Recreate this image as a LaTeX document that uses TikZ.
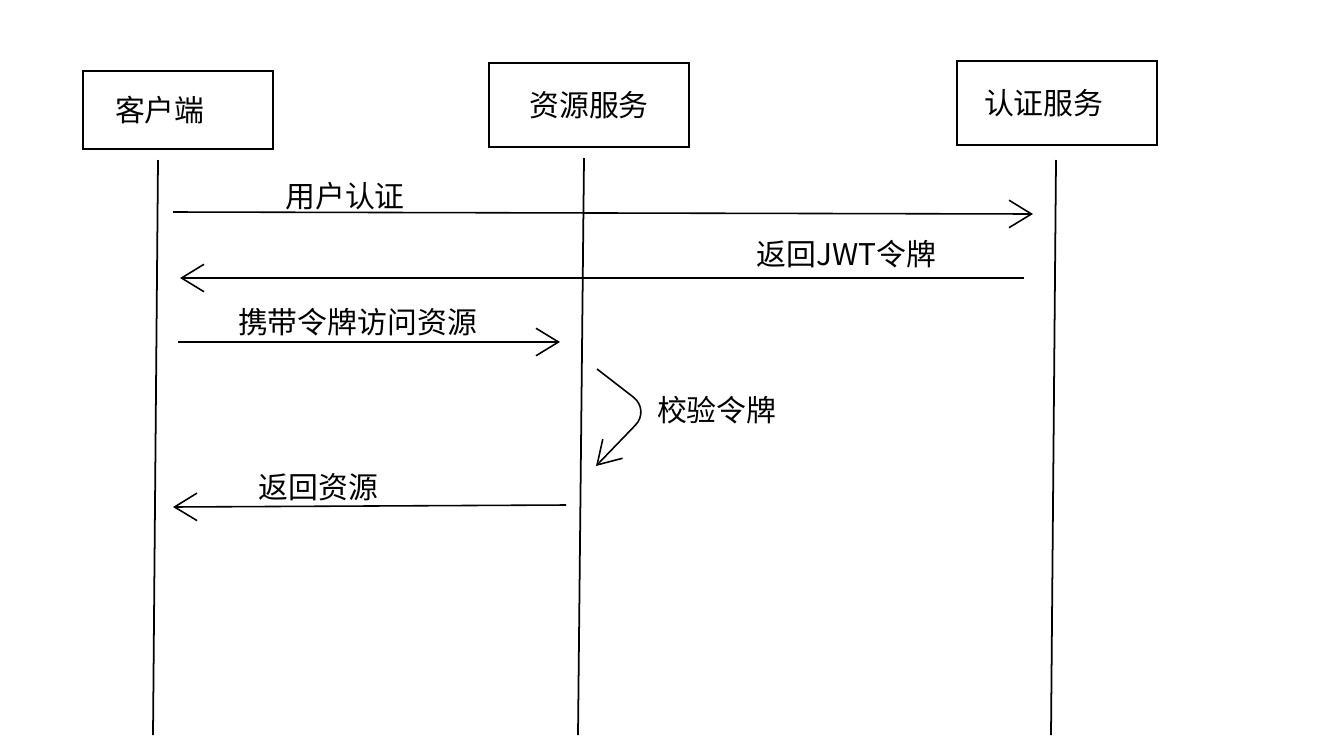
\documentclass[tikz,border=0pt]{standalone}
\usepackage{fontspec}
\setmainfont{Noto Sans CJK SC}
\usetikzlibrary{arrows.meta, positioning}
\tikzset{
  actor/.style={rectangle, draw=black, line width=1pt, minimum width=4cm, minimum height=1.68cm, align=center, font=\fontsize{17pt}{20pt}\selectfont},
  lifeline/.style={line width=1pt},
  msg/.style={-{Straight Barb[length=4.5mm, width=5.5mm]}, line width=0.9pt},
  msglabel/.style={inner sep=1pt, font=\fontsize{17pt}{20pt}\selectfont},
}
\begin{document}
\begin{tikzpicture}[x=0.02cm, y=-0.02cm]
\useasboundingbox (0,0) rectangle (1332,751);
% participants
\node[actor, minimum width=3.8cm, minimum height=1.56cm, align=left, text width=2.52cm, inner xsep=0.64cm] (cli) at (178,110) {客户端};
\node[actor] (res) at (589,105) {资源服务};
\node[actor, align=left, text width=2.92cm, inner xsep=0.54cm] (aut) at (1057,103) {认证服务};
% lifelines
\coordinate (cliTop) at (158,160); \coordinate (cliBot) at (153,735);
\coordinate (resTop) at (584,158); \coordinate (resBot) at (578,735);
\coordinate (autTop) at (1056,160); \coordinate (autBot) at (1051,735);
\draw[lifeline](cliTop)--(cliBot);
\draw[lifeline](resTop)--(resBot);
\draw[lifeline](autTop)--(autBot);
% message ends
\coordinate (m1s) at (173,212); \coordinate (m1e) at (1033,214);
\coordinate (m2s) at (1024,278); \coordinate (m2e) at (180,278);
\coordinate (m3s) at (178,342); \coordinate (m3e) at (560,342);
\coordinate (chkS) at (597,369); \coordinate (chkM) at (650,410); \coordinate (chkE) at (596,466);
\coordinate (m5s) at (566,505); \coordinate (m5e) at (173,507);
% messages
\draw[msg](m1s)-- node[msglabel, above, pos=0.2] (lbLogin){用户认证}(m1e);
\draw[msg](m2s)-- node[msglabel, above=0.15cm, pos=0.21] (lbToken){返回JWT令牌}(m2e);
\draw[msg](m3s)-- node[msglabel, above=0.06cm, pos=0.47] (lbReq){携带令牌访问资源}(m3e);
\draw[msg, rounded corners=12](chkS)--(chkM)--(chkE);
\node[msglabel, right=0.1cm of chkM] (lbChk){校验令牌};
\draw[msg](m5s)-- node[msglabel, above=0.06cm, pos=0.63] (lbRes){返回资源}(m5e);
\end{tikzpicture}
\end{document}
